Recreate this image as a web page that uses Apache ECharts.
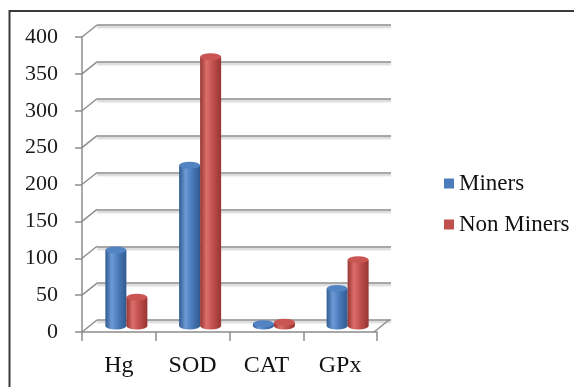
<!DOCTYPE html>
<html>
<head>
<meta charset="utf-8">
<script src="https://cdn.jsdelivr.net/npm/echarts@6/dist/echarts.min.js"></script>
<style>
  html, body { margin: 0; padding: 0; background: #fff; }
  #chart { width: 574px; height: 387px; }
</style>
</head>
<body>
<div id="chart"></div>
<script>
// 3D-style clustered column chart (Excel look), drawn with 3 offset grids
var categories = ['Hg', 'SOD', 'CAT', 'GPx'];
var miners = [103, 218, 3, 51];
var nonMiners = [39, 365, 5, 90];
var yTicks = [0, 50, 100, 150, 200, 250, 300, 350, 400];

var chart = echarts.init(document.getElementById('chart'), null, { renderer: 'canvas' });

var font = 'Liberation Serif';
var gridColor = '#8c8c8c';
var depthX = 15, depthY = -12; // back wall offset from front

function cyl(dark, mid, light) {
  return new echarts.graphic.LinearGradient(0, 0, 1, 0, [
    { offset: 0, color: dark },
    { offset: 0.3, color: light },
    { offset: 0.6, color: mid },
    { offset: 1, color: dark }
  ]);
}
var blueFill = cyl('#2f5a8f', '#4a7bbb', '#6d9ad6');
var redFill = cyl('#973532', '#c0504d', '#db6e6b');

chart.setOption({
  backgroundColor: '#fff',
  animation: false,
  graphic: [{
    type: 'rect',
    shape: { x: 9.5, y: 11, width: 700, height: 500 },
    style: { fill: 'none', stroke: '#3a3a3a', lineWidth: 2 },
    z: 0
  }],
  legend: {
    data: [
      { name: 'Miners', itemStyle: { color: '#4a7bbb' } },
      { name: 'Non Miners', itemStyle: { color: '#c0504d' } }
    ],
    orient: 'vertical',
    left: 439,
    top: 167,
    itemWidth: 10,
    itemHeight: 10,
    itemGap: 18,
    icon: 'rect',
    textStyle: { fontFamily: font, fontSize: 23, color: '#111' }
  },
  grid: [
    // front (axes)
    { left: 82, right: 197, top: 37, bottom: 55 },
    // back wall
    { left: 82 + depthX, right: 197 - depthX + 1, top: 37 + depthY, bottom: 55 - depthY },
    // middle (bars)
    { left: 89.5, right: 189.5, top: 31, bottom: 61 }
  ],
  xAxis: [
    {
      gridIndex: 0, type: 'category', data: categories,
      axisLine: { lineStyle: { color: gridColor, width: 1.5 } },
      axisTick: { show: true, length: 9, lineStyle: { color: gridColor, width: 1.5 } },
      axisLabel: { fontFamily: font, fontSize: 24, color: '#111', margin: 22 }
    },
    { gridIndex: 1, type: 'value', min: 0, max: 4, show: false },
    { gridIndex: 2, type: 'category', data: categories, show: false }
  ],
  yAxis: [
    {
      gridIndex: 0, type: 'value', min: 0, max: 400, interval: 50,
      axisLine: { show: true, lineStyle: { color: gridColor, width: 1.5 } },
      axisTick: { show: true, length: 7, lineStyle: { color: gridColor, width: 1.5 } },
      axisLabel: { fontFamily: font, fontSize: 22, color: '#1a1a1a', margin: 24 },
      splitLine: { show: false }
    },
    {
      gridIndex: 1, type: 'value', min: 0, max: 400, interval: 50,
      axisLine: { show: false }, axisTick: { show: false }, axisLabel: { show: false },
      splitLine: { show: true, lineStyle: { color: gridColor, width: 1.5, shadowColor: 'rgba(0,0,0,0.25)', shadowOffsetY: 2, shadowBlur: 2 } }
    },
    { gridIndex: 2, type: 'value', min: 0, max: 400, show: false }
  ],
  series: [
    {
      // side wall diagonals + floor right edge
      type: 'custom',
      xAxisIndex: 1, yAxisIndex: 1,
      data: yTicks,
      silent: true,
      renderItem: function (params, api) {
        var v = api.value(0);
        var p = api.coord([0, v]);
        var children = [{
          type: 'line',
          shape: { x1: p[0], y1: p[1], x2: p[0] - depthX, y2: p[1] - depthY },
          style: { stroke: gridColor, lineWidth: 1.5 }
        }];
        if (v === 0) {
          var q = api.coord([4, 0]);
          children.push({
            type: 'line',
            shape: { x1: q[0] - 2, y1: q[1], x2: q[0] - depthX - 2, y2: q[1] - depthY },
            style: { stroke: gridColor, lineWidth: 1.5 }
          });
        }
        return { type: 'group', children: children };
      }
    },
    {
      name: 'Miners', type: 'bar', xAxisIndex: 2, yAxisIndex: 2,
      data: miners, barWidth: 21, barGap: '0%',
      itemStyle: { color: blueFill },
      z: 3
    },
    {
      name: 'Non Miners', type: 'bar', xAxisIndex: 2, yAxisIndex: 2,
      data: nonMiners, barWidth: 21,
      itemStyle: { color: redFill },
      z: 3
    },
    // cylinder bottoms
    {
      name: 'mb', type: 'pictorialBar', xAxisIndex: 2, yAxisIndex: 2,
      data: miners, symbol: 'circle', symbolSize: [21, 7],
      symbolPosition: 'start', symbolOffset: [-10.5, '50%'],
      itemStyle: { color: blueFill }, z: 2, silent: true
    },
    {
      name: 'nb', type: 'pictorialBar', xAxisIndex: 2, yAxisIndex: 2,
      data: nonMiners, symbol: 'circle', symbolSize: [21, 7],
      symbolPosition: 'start', symbolOffset: [10.5, '50%'],
      itemStyle: { color: redFill }, z: 2, silent: true
    },
    // cylinder tops
    {
      name: 'mt', type: 'pictorialBar', xAxisIndex: 2, yAxisIndex: 2,
      data: miners, symbol: 'circle', symbolSize: [21, 7],
      symbolPosition: 'end', symbolOffset: [-10.5, '-50%'],
      itemStyle: { color: '#5283c2' }, z: 4, silent: true
    },
    {
      name: 'nt', type: 'pictorialBar', xAxisIndex: 2, yAxisIndex: 2,
      data: nonMiners, symbol: 'circle', symbolSize: [21, 7],
      symbolPosition: 'end', symbolOffset: [10.5, '-50%'],
      itemStyle: { color: '#c95653' }, z: 4, silent: true
    }
  ]
});

window.addEventListener('resize', function () {
  chart.resize();
});
</script>
</body>
</html>
